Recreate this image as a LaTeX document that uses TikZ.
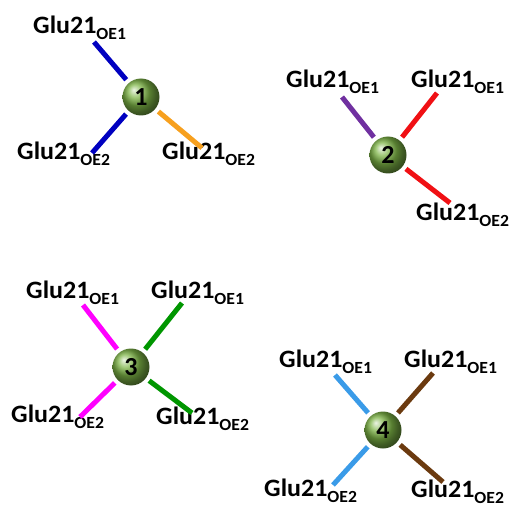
\documentclass[tikz,border=0pt]{standalone}
\usepackage{fontspec}
\setmainfont{Carlito}
\usetikzlibrary{shadings}
\definecolor{cblue}{RGB}{0,0,192}
\definecolor{corange}{RGB}{247,160,30}
\definecolor{cpurple}{RGB}{112,48,160}
\definecolor{cred}{RGB}{240,16,20}
\definecolor{cmag}{RGB}{255,0,255}
\definecolor{cgreen}{RGB}{0,150,0}
\definecolor{clblue}{RGB}{58,155,232}
\definecolor{cbrown}{RGB}{107,58,15}
\definecolor{cball}{RGB}{125,180,70}
\newcommand{\gsub}[1]{\raisebox{-6pt}{\fontsize{17}{17}\selectfont #1}}
\newcommand{\glu}[1]{\scalebox{1.04}[1]{Glu21\gsub{#1}}}
\tikzset{
  ion/.style={circle, minimum size=37pt, inner sep=0pt, shading=ball, ball color=cball,
    font=\fontsize{26}{26}\selectfont\bfseries},
  lab/.style={anchor=base west, inner sep=0pt, font=\fontsize{25}{25}\selectfont\bfseries},
  bond/.style={line width=5pt, shorten <=4pt}
}
\begin{document}
\begin{tikzpicture}[x=1pt,y=-1pt]
\useasboundingbox (0,0) rectangle (517,508);
% group 1
\node[ion] (b1) at (141,97) {1};
\node[lab] (l1a) at (33,34) {\glu{OE1}};
\node[lab] (l1b) at (17,160) {\glu{OE2}};
\node[lab] (l1c) at (162,160) {\glu{OE2}};
\coordinate (e1a) at (94,42);
\coordinate (e1b) at (92,153);
\coordinate (e1c) at (202,148);
\draw[bond, cblue] (b1) -- (e1a);
\draw[bond, cblue] (b1) -- (e1b);
\draw[bond, corange] (b1) -- (e1c);
% group 2
\node[ion] (b2) at (388,155) {2};
\node[lab] (l2a) at (286,88) {\glu{OE1}};
\node[lab] (l2b) at (411,88) {\glu{OE1}};
\node[lab] (l2c) at (416,220) {\glu{OE2}};
\coordinate (e2a) at (342,97);
\coordinate (e2b) at (437,93);
\coordinate (e2c) at (450,203);
\draw[bond, cpurple] (b2) -- (e2a);
\draw[bond, cred] (b2) -- (e2b);
\draw[bond, cred] (b2) -- (e2c);
% group 3
\node[ion] (b3) at (131,367) {3};
\node[lab] (l3a) at (26,298) {\glu{OE1}};
\node[lab] (l3b) at (151,298) {\glu{OE1}};
\node[lab] (l3c) at (11,422) {\glu{OE2}};
\node[lab] (l3d) at (156,424) {\glu{OE2}};
\coordinate (e3a) at (83,305);
\coordinate (e3b) at (182,303);
\coordinate (e3c) at (80,417);
\coordinate (e3d) at (192,413);
\draw[bond, cmag] (b3) -- (e3a);
\draw[bond, cgreen] (b3) -- (e3b);
\draw[bond, cmag] (b3) -- (e3c);
\draw[bond, cgreen] (b3) -- (e3d);
% group 4
\node[ion] (b4) at (383,430) {4};
\node[lab] (l4a) at (279,367) {\glu{OE1}};
\node[lab] (l4b) at (404,367) {\glu{OE1}};
\node[lab] (l4c) at (264,496) {\glu{OE2}};
\node[lab] (l4d) at (411,497) {\glu{OE2}};
\coordinate (e4a) at (335,375);
\coordinate (e4b) at (433,373);
\coordinate (e4c) at (333,485);
\coordinate (e4d) at (443,482);
\draw[bond, clblue] (b4) -- (e4a);
\draw[bond, cbrown] (b4) -- (e4b);
\draw[bond, clblue] (b4) -- (e4c);
\draw[bond, cbrown] (b4) -- (e4d);
\end{tikzpicture}
\end{document}
